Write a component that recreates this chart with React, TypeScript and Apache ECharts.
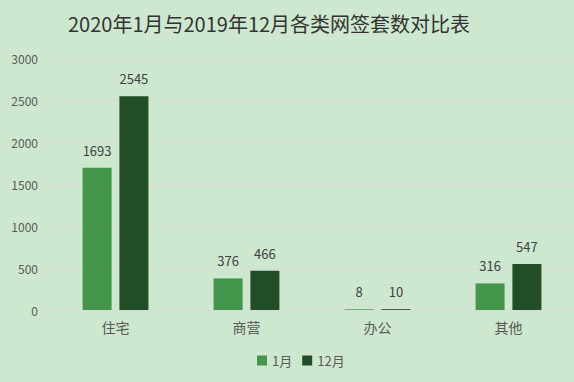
import React, { useEffect, useRef } from "react";
import * as echarts from "echarts";

const categories = ["住宅", "商营", "办公", "其他"];
const janValues = [1693, 376, 8, 316];
const decValues = [2545, 466, 10, 547];
const seriesNames = ["1月", "12月"];
const titleText = "2020年1月与2019年12月各类网签套数对比表";

export default function App() {
  const ref = useRef<HTMLDivElement>(null);
  useEffect(() => {
    if (!ref.current) return;
    const chart = echarts.init(ref.current, undefined, { renderer: "svg" });
    const font = "Noto Sans CJK SC";
    const labelCfg = {
      show: true,
      position: "top",
      distance: 11,
      color: "#404040",
      fontSize: 13,
      fontFamily: font,
    };
    chart.setOption({
      animation: false,
      backgroundColor: "#cde8cf",
      title: {
        text: titleText,
        left: 63,
        top: 8,
        textStyle: { color: "#333333", fontSize: 20, fontWeight: "normal", fontFamily: font },
      },
      legend: {
        data: seriesNames,
        bottom: 10,
        left: 252,
        itemWidth: 10,
        itemHeight: 10,
        itemGap: 10,
        icon: "rect",
        textStyle: { color: "#595959", fontSize: 13, fontFamily: font },
      },
      grid: { left: 50, top: 58, width: 537, height: 252 },
      xAxis: {
        type: "category",
        data: categories,
        axisLine: { show: false },
        axisTick: { show: false },
        axisLabel: { color: "#595959", fontSize: 14, fontFamily: font, margin: 10 },
      },
      yAxis: {
        type: "value",
        min: 0,
        max: 3000,
        interval: 500,
        axisLine: { show: false },
        axisTick: { show: false },
        splitLine: { lineStyle: { color: "#d9d9d9", width: 1 } },
        axisLabel: {
          color: "#595959",
          fontSize: 12,
          fontFamily: font,
          margin: 12,
          formatter: (v: number) => String(v),
        },
      },
      series: [
        {
          name: seriesNames[0],
          type: "bar",
          data: janValues,
          barWidth: 29,
          barGap: "27%",
          itemStyle: { color: "#43964b" },
          label: labelCfg,
        },
        {
          name: seriesNames[1],
          type: "bar",
          data: decValues,
          barWidth: 29,
          itemStyle: { color: "#214d27" },
          label: labelCfg,
        },
      ],
    });
    return () => chart.dispose();
  }, []);
  return <div ref={ref} style={{ width: 574, height: 382, position: "absolute", left: 0, top: 0 }} />;
}
